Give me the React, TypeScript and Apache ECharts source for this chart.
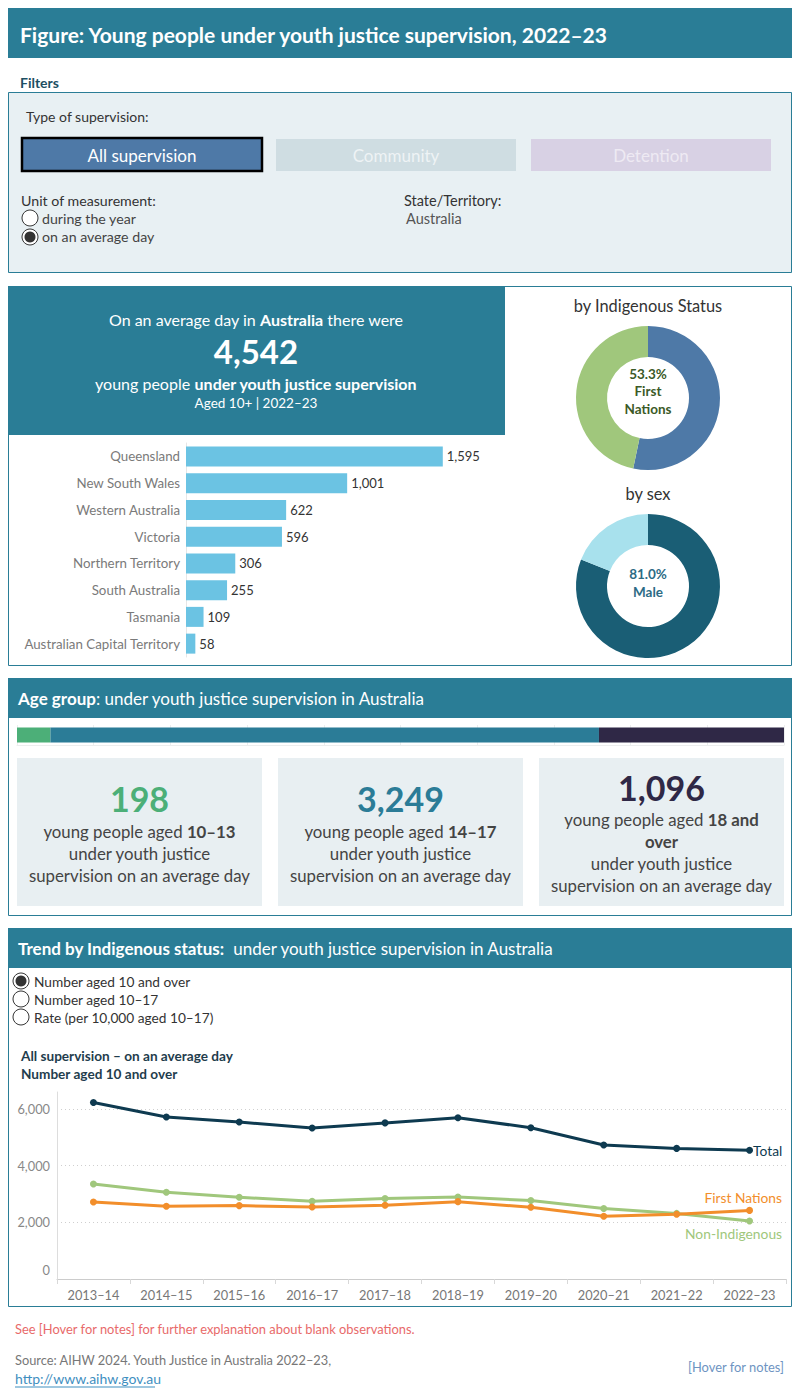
import { useEffect, useRef } from 'react';
import * as echarts from 'echarts';

// ---------- data ----------
const states = [
  'Queensland',
  'New South Wales',
  'Western Australia',
  'Victoria',
  'Northern Territory',
  'South Australia',
  'Tasmania',
  'Australian Capital Territory',
];
const stateValues = [1595, 1001, 622, 596, 306, 255, 109, 58];

const indigenousLabels = ['First Nations', 'Non-Indigenous'];
const indigenousShares = [53.3, 46.7];

const sexLabels = ['Male', 'Female'];
const sexShares = [81.0, 19.0];

const ageGroups = ['10–13', '14–17', '18 and over'];
const ageValues = [198, 3249, 1096];

const years = ['2013–14', '2014–15', '2015–16', '2016–17', '2017–18', '2018–19', '2019–20', '2020–21', '2021–22', '2022–23'];
const totalSeries = [6230, 5720, 5540, 5330, 5510, 5690, 5340, 4730, 4610, 4542];
const firstNationsSeries = [2715, 2565, 2590, 2540, 2600, 2730, 2530, 2215, 2285, 2421];
const nonIndigenousSeries = [3350, 3060, 2885, 2745, 2840, 2895, 2770, 2490, 2315, 2050];

const yTicks = [0, 2000, 4000, 6000];

// ---------- style ----------
const FONT = 'Lato';
const TEAL = '#2a7d96';
const fmt = (v: number) => v.toLocaleString('en-US');

function t(x: number, y: number, text: string, size: number, color: string, weight: string = 'normal', align: string = 'left', extra: any = {}) {
  return {
    type: 'text',
    x,
    y,
    silent: true,
    style: { text, fill: color, fontSize: size, fontFamily: FONT, fontWeight: weight, align, verticalAlign: 'middle', ...extra },
  };
}
function rich(x: number, y: number, text: string, size: number, color: string, align: string = 'left') {
  return t(x, y, text, size, color, 'normal', align, {
    rich: {
      n: { fontSize: size, fontFamily: FONT, fill: color },
      b: { fontSize: size, fontFamily: FONT, fontWeight: 'bold', fill: color },
    },
  });
}
function rect(x: number, y: number, w: number, h: number, fill: string, stroke?: string, lw = 1) {
  return { type: 'rect', silent: true, shape: { x, y, width: w, height: h }, style: { fill, stroke: stroke || 'none', lineWidth: lw } };
}
function radio(cx: number, cy: number, on: boolean) {
  const els: any[] = [{ type: 'circle', silent: true, shape: { cx, cy, r: 8 }, style: { fill: '#fff', stroke: '#333', lineWidth: 1 } }];
  if (on) els.push({ type: 'circle', silent: true, shape: { cx, cy, r: 5.5 }, style: { fill: '#333' } });
  return els;
}

function buildOption() {
  const ageTotal = ageValues.reduce((a, b) => a + b, 0);
  const ageColors = ['#4caf78', '#2b7c97', '#2f2846'];
  const boxX = [17, 278, 539];
  const elements: any[] = [
    // title
    rect(8, 8, 784, 50, TEAL),
    t(20, 34, 'Figure: Young people under youth justice supervision, 2022–23', 21, '#fff', 'bold'),
    t(20, 82, 'Filters', 14, '#1d4f63', 'bold'),
    // filter box
    rect(8.5, 92.5, 783, 180, '#e8f0f3', TEAL),
    t(26, 116, 'Type of supervision:', 14, '#333'),
    rect(22, 138, 240, 33, '#4e79a7', '#000', 2.5),
    t(142, 155, 'All supervision', 17, '#fff', 'normal', 'center'),
    rect(276, 139, 240, 32, '#cfdde2'),
    t(396, 155, 'Community', 17, '#eef3f5', 'normal', 'center'),
    rect(531, 139, 240, 32, '#d8d1e4'),
    t(651, 155, 'Detention', 17, '#eeeaf3', 'normal', 'center'),
    t(21, 200, 'Unit of measurement:', 14.2, '#333'),
    ...radio(30, 218, false),
    t(42, 218, 'during the year', 14.2, '#444'),
    ...radio(30, 237, true),
    t(42, 236, 'on an average day', 14.2, '#444'),
    t(404, 200, 'State/Territory:', 14.5, '#333'),
    t(406, 218, 'Australia', 14.5, '#555'),
    // main panel
    rect(8.5, 286.5, 783, 379, '#fff', TEAL),
    rect(8, 286, 497, 149, TEAL),
    rich(256, 319, '{n|On an average day in }{b|Australia}{n| there were}', 16, '#fff', 'center'),
    t(256, 351, '4,542', 33, '#fff', 'bold', 'center'),
    rich(256, 383, '{n|young people }{b|under youth justice supervision}', 16, '#fff', 'center'),
    t(256, 403, 'Aged 10+ | 2022–23', 13.5, '#fff', 'normal', 'center'),
    t(648, 305, 'by Indigenous Status', 16.4, '#333', 'normal', 'center'),
    t(648, 374, indigenousShares[0].toFixed(1) + '%', 13.5, '#3b5a27', 'bold', 'center'),
    t(648, 391, 'First', 13.5, '#3b5a27', 'bold', 'center'),
    t(648, 409, 'Nations', 13.5, '#3b5a27', 'bold', 'center'),
    t(648, 493, 'by sex', 16.4, '#333', 'normal', 'center'),
    t(648, 574, sexShares[0].toFixed(1) + '%', 13.5, '#2c6b85', 'bold', 'center'),
    t(648, 592, sexLabels[0], 13.5, '#2c6b85', 'bold', 'center'),
    // age section
    rect(8.5, 678.5, 783, 237, '#fff', TEAL),
    rect(8, 678, 784, 40, TEAL),
    rich(18, 698, '{b|Age group}{n|: under youth justice supervision in Australia}', 17, '#fff'),
    // trend section
    rect(8.5, 928.5, 783, 378, '#fff', TEAL),
    rect(8, 928, 784, 40, TEAL),
    rich(18, 948, '{b|Trend by Indigenous status:}{n|  under youth justice supervision in Australia}', 17, '#fff'),
    ...radio(21, 981, true),
    t(34, 981, 'Number aged 10 and over', 13.7, '#333'),
    ...radio(21, 999, false),
    t(34, 999, 'Number aged 10–17', 13.7, '#333'),
    ...radio(21, 1017, false),
    t(34, 1017, 'Rate (per 10,000 aged 10–17)', 13.7, '#333'),
    t(21, 1056, 'All supervision – on an average day', 13.6, '#1f3d4d', 'bold'),
    t(21, 1074, 'Number aged 10 and over', 13.6, '#1f3d4d', 'bold'),
    // footer
    t(15, 1329, 'See [Hover for notes] for further explanation about blank observations.', 12.9, '#e86a6a'),
    t(15, 1360, 'Source: AIHW 2024. Youth Justice in Australia 2022–23,', 12.8, '#777'),
    t(15, 1378, 'http://www.aihw.gov.au', 14, '#3f8fbf'),
    { type: 'line', silent: true, shape: { x1: 15, y1: 1387, x2: 155, y2: 1387 }, style: { stroke: '#3f8fbf', lineWidth: 1 } },
    t(784, 1367, '[Hover for notes]', 12.9, '#6e94c2', 'normal', 'right'),
  ];

  // age boxes
  ageValues.forEach((v, i) => {
    const x = boxX[i];
    const cx = x + 122.5;
    elements.push(rect(x, 758, 245, 148, '#e8eff2'));
    if (i < 2) {
      elements.push(t(cx, 798, fmt(v), 34, ageColors[i], 'bold', 'center'));
      elements.push(rich(cx, 831, `{n|young people aged }{b|${ageGroups[i]}}`, 16.8, '#444', 'center'));
      elements.push(t(cx, 853, 'under youth justice', 16.8, '#444', 'normal', 'center'));
      elements.push(t(cx, 875, 'supervision on an average day', 16.8, '#444', 'normal', 'center'));
    } else {
      elements.push(t(cx, 787, fmt(v), 34, ageColors[i], 'bold', 'center'));
      elements.push(rich(cx, 819, '{n|young people aged }{b|18 and}', 16.8, '#444', 'center'));
      elements.push(rich(cx, 841, '{b|over}', 16.8, '#444', 'center'));
      elements.push(t(cx, 863, 'under youth justice', 16.8, '#444', 'normal', 'center'));
      elements.push(t(cx, 885, 'supervision on an average day', 16.8, '#444', 'normal', 'center'));
    }
  });

  const lastIdx = years.length - 1;
  const withEndLabel = (arr: number[], text: string, color: string, pos: number[], align: string) =>
    arr.map((v, i) =>
      i === lastIdx
        ? {
            value: v,
            label: {
              show: true,
              formatter: text,
              position: pos,
              align,
              verticalAlign: 'middle',
              color,
              fontFamily: FONT,
              fontSize: 13.8,
            },
          }
        : v
    );

  return {
    animation: false,
    textStyle: { fontFamily: FONT },
    graphic: { elements },
    grid: [
      { left: 186, top: 443, width: 322, height: 214 },
      { left: 17, top: 725, width: 767, height: 20 },
      { left: 57, top: 1092, right: 14, bottom: 121 },
    ],
    xAxis: [
      { type: 'value', gridIndex: 0, min: 0, max: 2000, show: false },
      {
        type: 'value',
        gridIndex: 1,
        min: 0,
        max: ageTotal,
        interval: ageTotal / 10,
        axisLabel: { show: false },
        axisTick: { show: false },
        axisLine: { show: true, lineStyle: { color: '#eceeee' } },
        splitLine: { show: true, lineStyle: { color: '#eceeee' } },
      },
      {
        type: 'category',
        gridIndex: 2,
        data: years,
        boundaryGap: true,
        axisLine: { lineStyle: { color: '#cccccc' } },
        axisTick: { show: true, length: 5, lineStyle: { color: '#d8d8d8' } },
        axisLabel: { color: '#777', fontSize: 12.8, margin: 9, fontFamily: FONT },
      },
    ],
    yAxis: [
      {
        type: 'category',
        gridIndex: 0,
        data: states,
        inverse: true,
        axisLine: { show: true, lineStyle: { color: '#e6e6e6' } },
        axisTick: { show: false },
        axisLabel: { color: '#7a7a7a', fontSize: 13.3, margin: 6, fontFamily: FONT },
      },
      { type: 'category', gridIndex: 1, data: ['All'], show: false },
      {
        type: 'value',
        gridIndex: 2,
        min: 0,
        max: 6600,
        interval: 2000,
        axisLine: { show: true, lineStyle: { color: '#dddddd' } },
        axisTick: { show: false },
        axisLabel: {
          color: '#888',
          fontSize: 12.8,
          margin: 7,
          fontFamily: FONT,
          showMaxLabel: false,
          formatter: (v: number) => (v === 0 ? '{z|0}' : yTicks.includes(v) ? fmt(v) : ''),
          rich: { z: { color: '#888', fontSize: 12.8, fontFamily: FONT, padding: [0, 0, 18, 0] } },
        },
        splitLine: { show: true, showMinLine: false, showMaxLine: false, lineStyle: { color: '#cfcfcf', type: [1, 3] } },
      },
    ],
    series: [
      {
        type: 'bar',
        xAxisIndex: 0,
        yAxisIndex: 0,
        data: stateValues,
        barWidth: 20,
        silent: true,
        itemStyle: { color: '#6bc3e3' },
        label: { show: true, position: 'right', distance: 4, color: '#333', fontSize: 13, fontFamily: FONT, formatter: (p: any) => fmt(p.value) },
      },
      ...ageGroups.map((g, i) => ({
        type: 'bar',
        name: g,
        xAxisIndex: 1,
        yAxisIndex: 1,
        stack: 'age',
        barWidth: 15,
        silent: true,
        data: [ageValues[i]],
        itemStyle: { color: ageColors[i] },
      })),
      {
        type: 'pie',
        center: [648, 398],
        radius: [41, 72],
        startAngle: 90,
        silent: true,
        label: { show: false },
        labelLine: { show: false },
        itemStyle: { borderWidth: 0 },
        data: indigenousLabels.map((n, i) => ({ name: n, value: indigenousShares[i], itemStyle: { color: ['#4e79a7', '#a0c77c'][i] } })),
      },
      {
        type: 'pie',
        center: [648, 586],
        radius: [41, 72],
        startAngle: 90,
        silent: true,
        label: { show: false },
        labelLine: { show: false },
        itemStyle: { borderWidth: 0 },
        data: sexLabels.map((n, i) => ({ name: n, value: sexShares[i], itemStyle: { color: ['#1a5e75', '#a8e1ed'][i] } })),
      },
      {
        type: 'line',
        name: 'Total',
        xAxisIndex: 2,
        yAxisIndex: 2,
        data: withEndLabel(totalSeries, 'Total', '#0e3a50', [7, 3.5], 'left'),
        symbol: 'circle',
        symbolSize: 7,
        silent: true,
        lineStyle: { color: '#0e3a50', width: 3 },
        itemStyle: { color: '#0e3a50' },
      },
      {
        type: 'line',
        name: 'Non-Indigenous',
        xAxisIndex: 2,
        yAxisIndex: 2,
        data: withEndLabel(nonIndigenousSeries, 'Non-Indigenous', '#a0c77c', [36, 16], 'right'),
        symbol: 'circle',
        symbolSize: 7,
        silent: true,
        lineStyle: { color: '#a0c77c', width: 3 },
        itemStyle: { color: '#a0c77c' },
      },
      {
        type: 'line',
        name: 'First Nations',
        xAxisIndex: 2,
        yAxisIndex: 2,
        data: withEndLabel(firstNationsSeries, 'First Nations', '#f28e2b', [36, -9], 'right'),
        symbol: 'circle',
        symbolSize: 7,
        silent: true,
        lineStyle: { color: '#f28e2b', width: 3 },
        itemStyle: { color: '#f28e2b' },
      },
    ],
  };
}

export default function App() {
  const ref = useRef<HTMLDivElement>(null);
  useEffect(() => {
    document.body.style.margin = '0';
    const chart = echarts.init(ref.current!, null, { renderer: 'svg' });
    chart.setOption(buildOption() as any);
    return () => chart.dispose();
  }, []);
  return <div ref={ref} style={{ width: 800, height: 1400 }} />;
}
